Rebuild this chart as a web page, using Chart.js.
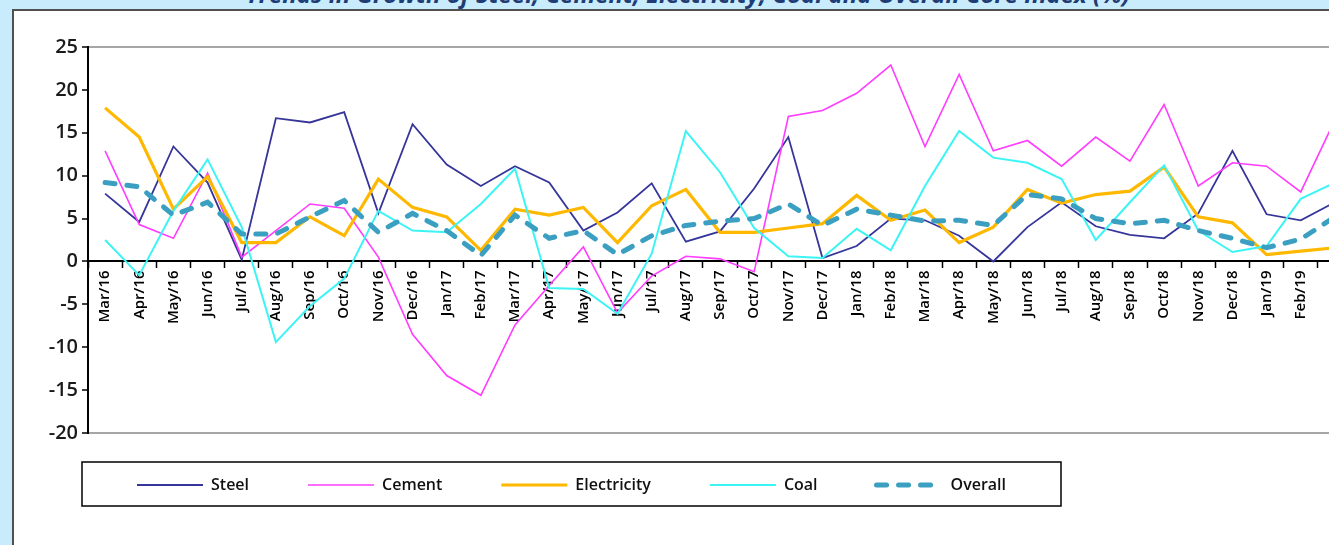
<!DOCTYPE html>
<html>
<head>
<meta charset="utf-8">
<script src="https://cdn.jsdelivr.net/npm/chart.js@4.4.1/dist/chart.umd.min.js"></script>
<style>
  html, body { margin: 0; padding: 0; }
  body { width: 1329px; height: 545px; overflow: hidden; background: #c8ecfc; position: relative; }
  #title { position: absolute; left: 0; top: -18px; width: 1376px; text-align: center;
           font: italic bold 24px/24px 'Open Sans', sans-serif; color: #1f3c74; white-space: nowrap; }
  #panel { position: absolute; left: 12px; top: 9px; width: 1400px; height: 600px; background: #fff;
           border-top: 2px solid #505050; border-left: 2px solid #505050; }
  #chart { position: absolute; left: 0; top: 0; }
</style>
</head>
<body>
<div id="title">Trends in Growth of Steel, Cement, Electricity, Coal and Overall Core Index (%)</div>
<div id="panel"></div>
<canvas id="chart" width="1400" height="600" style="width:1400px;height:600px"></canvas>
<script>
const months = ['Mar/16', 'Apr/16', 'May/16', 'Jun/16', 'Jul/16', 'Aug/16', 'Sep/16', 'Oct/16', 'Nov/16', 'Dec/16',
    'Jan/17', 'Feb/17', 'Mar/17', 'Apr/17', 'May/17', 'Jun/17', 'Jul/17', 'Aug/17', 'Sep/17', 'Oct/17', 'Nov/17', 'Dec/17',
    'Jan/18', 'Feb/18', 'Mar/18', 'Apr/18', 'May/18', 'Jun/18', 'Jul/18', 'Aug/18', 'Sep/18', 'Oct/18', 'Nov/18', 'Dec/18',
    'Jan/19', 'Feb/19', 'Mar/19'];

const steel = [7.9, 4.6, 13.4, 9.2, 0.2, 16.7, 16.2, 17.4, 5.6, 16.0, 11.3, 8.8, 11.1, 9.2, 3.6, 5.7, 9.1, 2.3, 3.5, 8.5,
    14.5, 0.4, 1.8, 5.0, 4.8, 3.0, 0.0, 4.0, 6.9, 4.1, 3.1, 2.7, 5.6, 12.9, 5.5, 4.8, 6.9];
const cement = [12.9, 4.3, 2.7, 10.3, 0.5, 3.6, 6.7, 6.2, 0.5, -8.5, -13.3, -15.6, -7.4, -2.8, 1.7, -6.0, -1.7, 0.6, 0.3, -1.2,
    16.9, 17.6, 19.6, 22.9, 13.4, 21.8, 12.9, 14.1, 11.1, 14.5, 11.7, 18.3, 8.8, 11.5, 11.1, 8.1, 16.5];
const electricity = [17.9, 14.5, 6.1, 9.9, 2.2, 2.2, 5.2, 3.0, 9.6, 6.3, 5.2, 1.3, 6.1, 5.4, 6.3, 2.2, 6.5, 8.4, 3.4, 3.4,
    3.9, 4.4, 7.7, 4.8, 6.0, 2.2, 4.0, 8.4, 6.8, 7.8, 8.2, 11.0, 5.2, 4.5, 0.8, 1.2, 1.6];
const coal = [2.5, -1.6, 5.9, 11.9, 4.0, -9.4, -5.2, -2.0, 5.9, 3.6, 3.4, 6.7, 10.8, -3.1, -3.2, -6.1, 0.9, 15.2, 10.4, 3.9,
    0.6, 0.4, 3.8, 1.3, 8.8, 15.2, 12.1, 11.5, 9.6, 2.5, 6.9, 11.2, 3.6, 1.1, 1.8, 7.3, 9.2];
const overall = [9.2, 8.7, 5.4, 6.9, 3.2, 3.2, 5.2, 7.1, 3.4, 5.6, 3.6, 0.7, 5.4, 2.7, 3.6, 0.8, 3.0, 4.2, 4.7, 5.0,
    6.7, 4.2, 6.1, 5.4, 4.7, 4.8, 4.2, 7.8, 7.3, 5.0, 4.4, 4.8, 3.6, 2.7, 1.6, 2.6, 5.2];

const yTicks = {min: -20, max: 25, step: 5};

const legendFont = {family: "'Open Sans', sans-serif", size: 16, weight: '600'};
const legendPad = 59;
// legend box eats fontSize + padding + 10 px below the plot; keep the plot bottom at y=433
const bottomPad = 600 - 433 - (legendFont.size + legendPad + 10);

// move the legend into its framed box under the plot
const legendFrame = {
    id: 'legendFrame',
    afterLayout(chart) {
        const lg = chart.legend;
        lg.left = 137 - legendPad;
        lg.right = lg.left + lg.width;
        lg.top = 485 - legendFont.size / 2 - legendPad;
        lg.bottom = lg.top + lg.height;
    },
    afterDraw(chart) {
        const ctx = chart.ctx;
        ctx.save();
        ctx.strokeStyle = '#000';
        ctx.lineWidth = 1.5;
        ctx.strokeRect(82, 462, 979, 44);
        ctx.restore();
    }
};

function series(label, values, color, width, order, dash) {
    return {
        label: label,
        data: values,
        borderColor: color,
        backgroundColor: color,
        borderWidth: width,
        borderDash: dash || [],
        borderCapStyle: dash ? 'round' : 'butt',
        pointRadius: 0,
        tension: 0,
        order: order,
    };
}

const chart = new Chart(document.getElementById('chart'), {
    type: 'line',
    data: {
        labels: months,
        datasets: [
            series('Steel', steel, '#35359a', 1.8, 5),
            series('Cement', cement, '#ff3cff', 1.6, 4),
            series('Electricity', electricity, '#ffb800', 3.2, 3),
            series('Coal', coal, '#3cf4f4', 2, 2),
            series('Overall', overall, '#3a9fc0', 5, 1, [10, 12]),
        ],
    },
    options: {
        responsive: false,
        animation: false,
        layout: {
            padding: {left: 12, top: 47, right: 48, bottom: bottomPad}
        },
        plugins: {
            title: {display: false},
            tooltip: {enabled: false},
            legend: {
                display: true,
                position: 'bottom',
                align: 'start',
                labels: {
                    usePointStyle: true,
                    pointStyle: 'line',
                    pointStyleWidth: 66,
                    padding: legendPad,
                    color: '#111',
                    font: legendFont,
                    sort: (a, b) => a.datasetIndex - b.datasetIndex,
                    generateLabels: (chart) => {
                        const items = Chart.defaults.plugins.legend.labels.generateLabels(chart);
                        items.forEach((item) => {
                            const ds = chart.data.datasets[item.datasetIndex];
                            item.lineDash = ds.borderDash;
                            item.lineCap = ds.borderCapStyle;
                            item.lineWidth = ds.borderWidth;
                        });
                        return items;
                    },
                },
            },
        },
        scales: {
            x: {
                type: 'category',
                position: {y: 0},
                offset: true,
                grid: {
                    display: true,
                    drawOnChartArea: false,
                    offset: true,
                    tickLength: 6,
                    tickColor: '#000',
                    tickWidth: 1.5,
                },
                border: {display: true, color: '#000', width: 2},
                ticks: {
                    autoSkip: false,
                    minRotation: 90,
                    maxRotation: 90,
                    padding: 3,
                    color: '#000',
                    font: {family: "'Open Sans', sans-serif", size: 15, weight: '600'},
                },
            },
            y: {
                min: yTicks.min,
                max: yTicks.max,
                afterFit: (scale) => { scale.width = 76; },
                grid: {
                    drawOnChartArea: true,
                    color: (c) => (c.tick.value === yTicks.max || c.tick.value === yTicks.min) ? '#a6a6a6' : 'rgba(0,0,0,0)',
                    lineWidth: 2,
                    tickLength: 6,
                    tickColor: '#000',
                    tickWidth: 1.5,
                },
                border: {display: true, color: '#000', width: 2},
                ticks: {
                    stepSize: yTicks.step,
                    padding: 4,
                    color: '#1a1a1a',
                    font: {family: "'Open Sans', sans-serif", size: 20, weight: '600'},
                },
            },
        },
    },
    plugins: [legendFrame],
});
</script>
</body>
</html>
